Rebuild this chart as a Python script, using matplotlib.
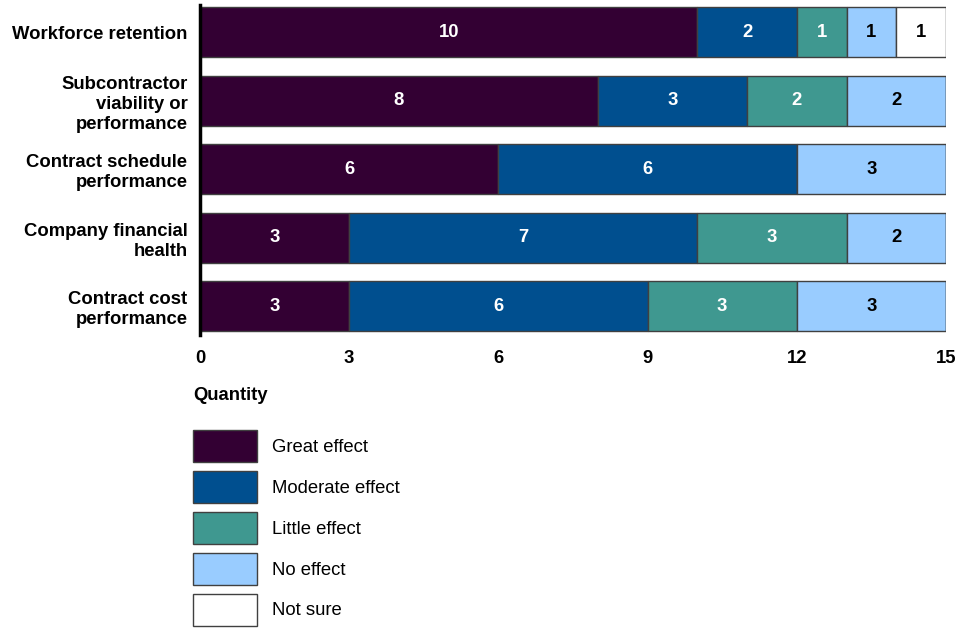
import numpy as np
import matplotlib.pyplot as plt

plt.rcParams['font.family'] = ['Liberation Sans', 'DejaVu Sans']

categories = ["Workforce retention", "Subcontractor\nviability or\nperformance",
              "Contract schedule\nperformance", "Company financial\nhealth",
              "Contract cost\nperformance"]
series = ["Great effect", "Moderate effect", "Little effect", "No effect", "Not sure"]
great = [10, 8, 6, 3, 3]
moderate = [2, 3, 6, 7, 6]
little = [1, 2, 0, 3, 3]
no_effect = [1, 2, 3, 2, 3]
not_sure = [1, 0, 0, 0, 0]
values = [great, moderate, little, no_effect, not_sure]

colors = ["#330033", "#004f8f", "#3f9890", "#99ccff", "#ffffff"]
text_colors = ["white", "white", "white", "black", "black"]
fs = 13.3

fig = plt.figure(figsize=(9.74, 6.29), dpi=100)
ax = fig.add_axes([200 / 974, 1 - 335 / 629, 746 / 974, 330 / 629])

y = np.arange(len(categories))
left = np.zeros(len(categories))
handles = []
for vals, name, c, tc in zip(values, series, colors, text_colors):
    vals = np.array(vals, dtype=float)
    bars = ax.barh(y, vals, left=left, height=0.73, color=c,
                   edgecolor="#404040", linewidth=1, label=name)
    handles.append(bars)
    for yi, v, l in zip(y, vals, left):
        if v > 0:
            ax.text(l + v / 2, yi, f"{int(v)}", ha="center", va="center",
                    color=tc, fontsize=fs, fontweight="bold")
    left += vals

ax.set_xlim(0, 15)
ax.set_ylim(4.42, -0.4)
ax.set_xticks([0, 3, 6, 9, 12, 15])
ax.set_yticks(y)
ax.set_yticklabels(categories, fontsize=fs, fontweight="bold", ha="right",
                   multialignment="right", linespacing=1.24)
for lab in ax.get_xticklabels():
    lab.set_fontweight("bold")
    lab.set_fontsize(fs)
ax.tick_params(axis="both", length=0)
ax.tick_params(axis="x", pad=11)
ax.tick_params(axis="y", pad=9)
for s in ["top", "right", "bottom"]:
    ax.spines[s].set_visible(False)
ax.spines["left"].set_linewidth(2.5)
ax.spines["left"].set_color("black")

ax.set_xlabel("Quantity", fontsize=fs, fontweight="bold", loc="left")
ax.xaxis.set_label_coords(-7 / 746, -52 / 330)
ax.xaxis.label.set_ha("left")

fig.legend(handles=handles, loc="upper left",
           bbox_to_anchor=(193 / 974, 1 - 430 / 629), frameon=False,
           fontsize=fs, handlelength=3.46, handleheight=2.28,
           labelspacing=0.49, handletextpad=0.81, borderpad=0, borderaxespad=0)

fig.savefig("out.png", dpi=100)
